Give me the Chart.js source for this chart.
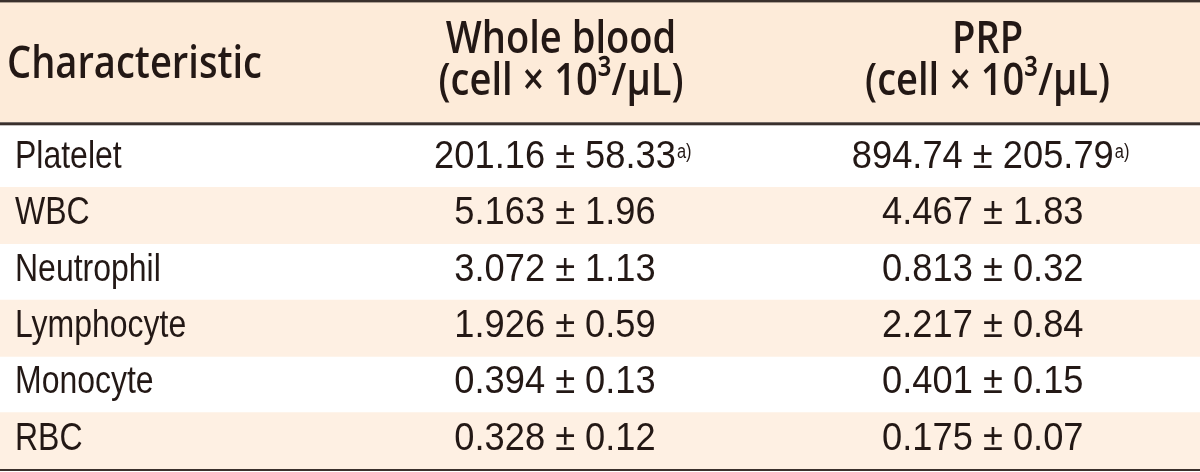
<!DOCTYPE html>
<html>
<head>
<meta charset="utf-8">
<script src="https://cdn.jsdelivr.net/npm/chart.js@4.4.1/dist/chart.umd.min.js"></script>
<style>
  html, body { margin: 0; padding: 0; background: #fff; }
  #wrap { width: 1200px; height: 472px; position: relative; }
</style>
</head>
<body>
<div id="wrap"><canvas id="tbl"></canvas></div>
<script>
// table contents
const rows      = ['Platelet', 'WBC', 'Neutrophil', 'Lymphocyte', 'Monocyte', 'RBC'];
const wholeMean = ['201.16', '5.163', '3.072', '1.926', '0.394', '0.328'];
const wholeSD   = ['58.33', '1.96', '1.13', '0.59', '0.13', '0.12'];
const prpMean   = ['894.74', '4.467', '0.813', '2.217', '0.401', '0.175'];
const prpSD     = ['205.79', '1.83', '0.32', '0.84', '0.15', '0.07'];
const notes     = ['a)', '', '', '', '', ''];
const headFirst = 'Characteristic';
const headCols  = [['Whole blood', '(cell × 10³/μL)'], ['PRP', '(cell × 10³/μL)']];

// look
const ink = '#231815';
const ruleColor = '#3a302c';
const headBg = '#fdebd9';
const stripeBg = '#fef0e3';
const bodyFont = '"Liberation Sans"';
const headFont = '"Open Sans"';
const narrow = 0.82;          // condensed look for the body text
const valueStretch = 0.93;
const rowShift = -2;
// column centres on the 0..100 x scale
const valueX = [46.25, 81.9];
const headX = [46.75, 82.3];

// draw text squeezed horizontally around (x, y)
function squeezed(ctx, txt, x, y, sx, align) {
    ctx.save();
    ctx.translate(x, y);
    ctx.scale(sx, 1);
    ctx.textAlign = align;
    ctx.fillText(txt, 0, 0);
    ctx.restore();
    return ctx.measureText(txt).width * sx;
}

const tablePlugin = {
    id: 'tableDraw',
    beforeDraw(chart) {
        const ctx = chart.ctx;
        const w = chart.width;
        const top = chart.chartArea.top;
        const xs = chart.scales.x;
        ctx.save();
        ctx.fillStyle = '#fff';
        ctx.fillRect(0, 0, w, chart.height);
        ctx.fillStyle = headBg;
        ctx.fillRect(0, 0, w, top - 8.7);
        ctx.fillStyle = ruleColor;
        ctx.fillRect(0, 0, w, 2.4);
        ctx.fillRect(0, top - 8.7, w, 3);

        // header text
        ctx.font = '600 46px ' + headFont;
        const sq = 255 / ctx.measureText(headFirst).width;
        ctx.fillStyle = ink;
        ctx.textBaseline = 'alphabetic';
        squeezed(ctx, headFirst, 7, 78, sq, 'left');
        headCols.forEach((lines, c) => {
            const cx = xs.getPixelForValue(headX[c]);
            squeezed(ctx, lines[0], cx, 53, sq, 'center');
            squeezed(ctx, lines[1], cx, 95, sq, 'center');
        });
        ctx.restore();
    },
    afterDatasetsDraw(chart) {
        const ctx = chart.ctx;
        const xs = chart.scales.x, ys = chart.scales.y;
        ctx.save();
        ctx.fillStyle = ink;
        rows.forEach((r, i) => {
            const y = ys.getPixelForValue(i) + rowShift;
            ctx.textBaseline = 'middle';
            ctx.font = '39px ' + bodyFont;
            squeezed(ctx, r, 15, y, narrow, 'left');
            const cells = [[wholeMean[i], wholeSD[i]], [prpMean[i], prpSD[i]]];
            cells.forEach((cell, c) => {
                const cx = xs.getPixelForValue(valueX[c]);
                ctx.font = '39px ' + bodyFont;
                ctx.textBaseline = 'middle';
                const tw = squeezed(ctx, cell[0] + ' ± ' + cell[1], cx, y, valueStretch, 'center');
                if (notes[i]) {
                    ctx.font = '20px ' + bodyFont;
                    ctx.textBaseline = 'alphabetic';
                    squeezed(ctx, notes[i], cx + tw / 2 + 1, y + 1, narrow, 'left');
                }
            });
        });
        ctx.restore();
    }
};

new Chart(document.getElementById('tbl'), {
    type: 'bar',
    data: {
        labels: rows,
        datasets: [{
            // alternate row shading
            data: rows.map((r, i) => i % 2 === 1 ? [0, 100] : null),
            backgroundColor: stripeBg,
            borderWidth: 0,
            barPercentage: 1,
            categoryPercentage: 1
        }]
    },
    options: {
        indexAxis: 'y',
        responsive: true,
        maintainAspectRatio: false,
        animation: false,
        events: [],
        layout: { padding: { top: 131, bottom: 3, left: 0, right: 0 } },
        plugins: { legend: { display: false }, tooltip: { enabled: false } },
        scales: {
            x: {
                type: 'linear', min: 0, max: 100,
                grid: { display: false, drawTicks: false },
                ticks: { display: false },
                border: { display: true, color: ruleColor, width: 3 }
            },
            y: {
                type: 'category',
                grid: { display: false, drawTicks: false },
                border: { display: false },
                ticks: { display: false },
                afterFit(scale) {
                    scale.width = 0;
                    scale.paddingTop = 0;
                    scale.paddingBottom = 0;
                }
            }
        }
    },
    plugins: [tablePlugin]
});
</script>
</body>
</html>
